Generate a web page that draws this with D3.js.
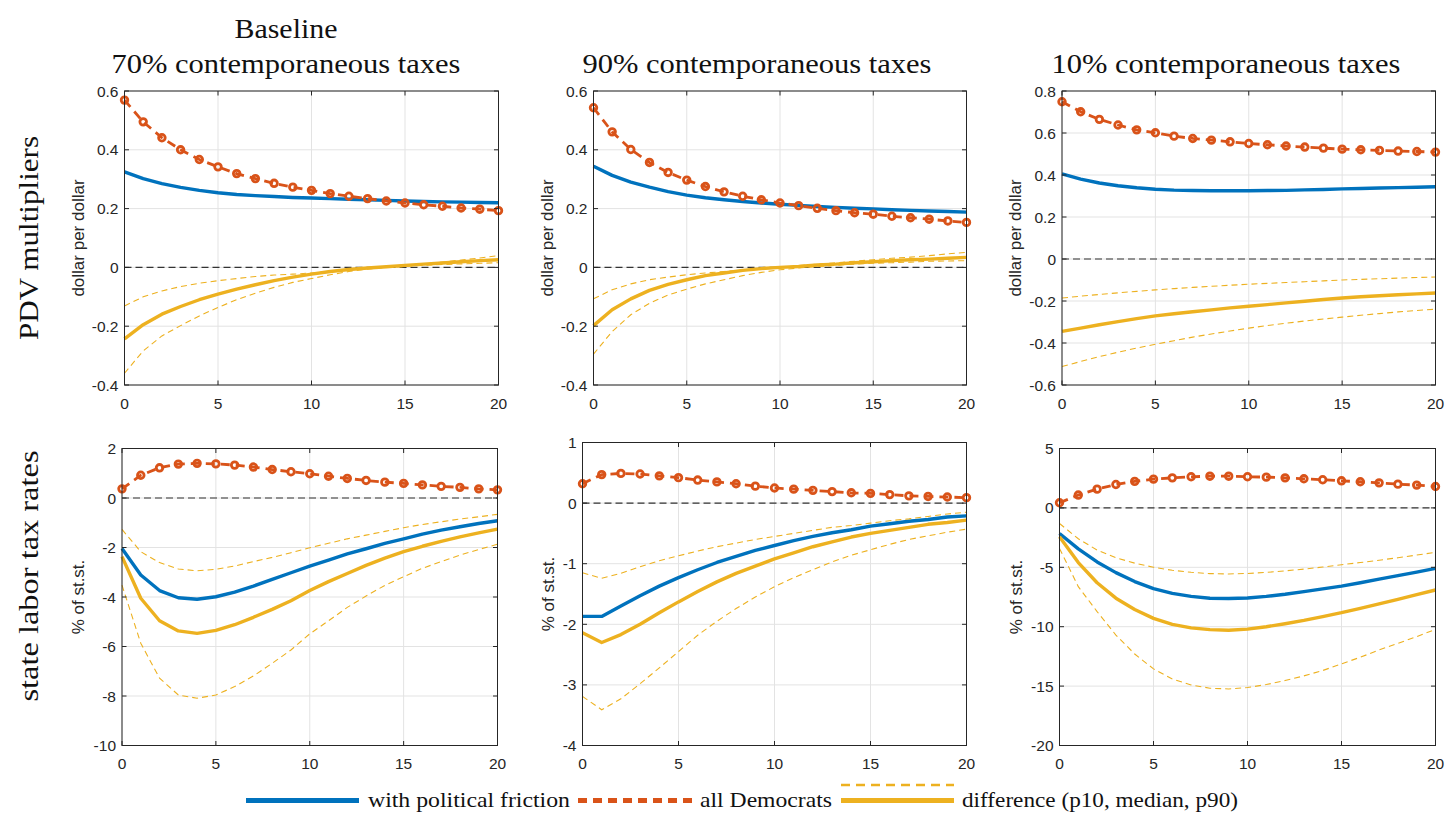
<!DOCTYPE html>
<html><head><meta charset="utf-8">
<script src="https://cdn.jsdelivr.net/npm/d3@7"></script>
<style>body{margin:0;background:#fff}svg{display:block}</style>
</head><body>
<svg id="chart" width="1445" height="814"></svg>
<script>
// ---------------- DATA ----------------
const horizons = [0,1,2,3,4,5,6,7,8,9,10,11,12,13,14,15,16,17,18,19,20];
const xTickValues = [0,5,10,15,20];
const xTickLabels = ["0","5","10","15","20"];

const columnTitles = ["70% contemporaneous taxes","90% contemporaneous taxes","10% contemporaneous taxes"];
const firstTitleLine = "Baseline";
const rowLabels = ["PDV multipliers","state labor tax rates"];
const yLabels = ["dollar per dollar","% of st.st."];
const legendLabels = ["with political friction","all Democrats","difference (p10, median, p90)"];

// y ticks per panel
const yTicksPdv = [-0.4,-0.2,0,0.2,0.4,0.6];
const yTickLabelsPdv = ["-0.4","-0.2","0","0.2","0.4","0.6"];
const yTicksPdv10 = [-0.6,-0.4,-0.2,0,0.2,0.4,0.6,0.8];
const yTickLabelsPdv10 = ["-0.6","-0.4","-0.2","0","0.2","0.4","0.6","0.8"];
const yTicksTax70 = [-10,-8,-6,-4,-2,0,2];
const yTickLabelsTax70 = ["-10","-8","-6","-4","-2","0","2"];
const yTicksTax90 = [-4,-3,-2,-1,0,1];
const yTickLabelsTax90 = ["-4","-3","-2","-1","0","1"];
const yTicksTax10 = [-20,-15,-10,-5,0,5];
const yTickLabelsTax10 = ["-20","-15","-10","-5","0","5"];

// Panel 1: PDV multipliers, 70%
const pdv70Friction = [0.325,0.302,0.285,0.272,0.262,0.254,0.248,0.244,0.241,0.238,0.236,0.234,0.232,0.230,0.228,0.226,0.224,0.223,0.222,0.221,0.220];
const pdv70Dem      = [0.569,0.495,0.441,0.400,0.367,0.342,0.319,0.302,0.286,0.273,0.262,0.251,0.242,0.234,0.226,0.219,0.213,0.208,0.202,0.198,0.193];
const pdv70DiffMed  = [-0.243,-0.195,-0.159,-0.133,-0.110,-0.091,-0.074,-0.059,-0.045,-0.033,-0.023,-0.014,-0.007,-0.002,0.002,0.007,0.011,0.015,0.019,0.023,0.026];
const pdv70DiffP90  = [-0.131,-0.100,-0.080,-0.065,-0.054,-0.045,-0.038,-0.031,-0.026,-0.023,-0.019,-0.014,-0.009,-0.004,0.001,0.006,0.012,0.018,0.025,0.032,0.040];
const pdv70DiffP10  = [-0.360,-0.284,-0.233,-0.198,-0.165,-0.136,-0.110,-0.088,-0.068,-0.051,-0.038,-0.025,-0.014,-0.006,0.000,0.003,0.007,0.010,0.012,0.014,0.016];

// Panel 2: PDV multipliers, 90%
const pdv90Friction = [0.344,0.313,0.290,0.273,0.258,0.246,0.237,0.230,0.224,0.219,0.215,0.211,0.207,0.204,0.201,0.199,0.196,0.194,0.192,0.190,0.188];
const pdv90Dem      = [0.543,0.461,0.401,0.357,0.323,0.297,0.275,0.257,0.242,0.230,0.219,0.210,0.201,0.193,0.186,0.181,0.174,0.169,0.164,0.158,0.153];
const pdv90DiffMed  = [-0.198,-0.144,-0.107,-0.078,-0.058,-0.042,-0.028,-0.019,-0.010,-0.004,0.000,0.003,0.008,0.011,0.016,0.019,0.023,0.026,0.028,0.031,0.034];
const pdv90DiffP90  = [-0.107,-0.076,-0.056,-0.042,-0.033,-0.025,-0.019,-0.014,-0.008,-0.004,0.000,0.006,0.011,0.016,0.021,0.026,0.031,0.035,0.040,0.046,0.051];
const pdv90DiffP10  = [-0.295,-0.218,-0.161,-0.122,-0.094,-0.074,-0.056,-0.042,-0.028,-0.017,-0.008,-0.002,0.003,0.007,0.011,0.014,0.016,0.018,0.021,0.022,0.023];

// Panel 3: PDV multipliers, 10%
const pdv10Friction = [0.405,0.380,0.362,0.349,0.339,0.332,0.328,0.326,0.325,0.325,0.325,0.326,0.327,0.329,0.331,0.334,0.336,0.338,0.340,0.342,0.344];
const pdv10Dem      = [0.749,0.701,0.665,0.638,0.615,0.601,0.585,0.574,0.566,0.558,0.550,0.544,0.538,0.533,0.528,0.523,0.520,0.517,0.514,0.512,0.509];
const pdv10DiffMed  = [-0.345,-0.329,-0.313,-0.298,-0.284,-0.271,-0.261,-0.251,-0.242,-0.233,-0.225,-0.217,-0.209,-0.201,-0.193,-0.186,-0.180,-0.175,-0.170,-0.166,-0.162];
const pdv10DiffP90  = [-0.186,-0.177,-0.169,-0.161,-0.154,-0.147,-0.141,-0.135,-0.130,-0.125,-0.120,-0.116,-0.112,-0.108,-0.104,-0.100,-0.097,-0.094,-0.091,-0.088,-0.086];
const pdv10DiffP10  = [-0.512,-0.488,-0.465,-0.444,-0.424,-0.406,-0.389,-0.372,-0.357,-0.343,-0.329,-0.317,-0.306,-0.295,-0.286,-0.277,-0.268,-0.260,-0.252,-0.245,-0.239];

// Panel 4: state labor tax rates, 70%
const tax70Friction = [-2.04,-3.11,-3.74,-4.03,-4.09,-3.99,-3.80,-3.56,-3.29,-3.02,-2.75,-2.51,-2.26,-2.05,-1.83,-1.65,-1.46,-1.30,-1.16,-1.03,-0.92];
const tax70Dem      = [0.37,0.92,1.22,1.37,1.40,1.38,1.33,1.25,1.15,1.06,0.98,0.88,0.79,0.71,0.64,0.59,0.53,0.47,0.43,0.37,0.33];
const tax70DiffMed  = [-2.37,-4.05,-4.96,-5.37,-5.47,-5.35,-5.12,-4.82,-4.50,-4.15,-3.74,-3.38,-3.05,-2.72,-2.43,-2.17,-1.95,-1.75,-1.57,-1.41,-1.26];
const tax70DiffP90  = [-1.27,-2.17,-2.61,-2.87,-2.94,-2.88,-2.75,-2.57,-2.40,-2.21,-2.01,-1.83,-1.65,-1.50,-1.35,-1.20,-1.07,-0.96,-0.85,-0.76,-0.66];
const tax70DiffP10  = [-3.52,-5.87,-7.28,-7.96,-8.09,-7.96,-7.62,-7.19,-6.68,-6.14,-5.49,-4.96,-4.42,-3.96,-3.53,-3.18,-2.84,-2.57,-2.31,-2.08,-1.87];

// Panel 5: state labor tax rates, 90%
const tax90Friction = [-1.87,-1.87,-1.70,-1.53,-1.37,-1.23,-1.10,-0.98,-0.88,-0.78,-0.70,-0.62,-0.55,-0.49,-0.44,-0.38,-0.34,-0.30,-0.27,-0.23,-0.21];
const tax90Dem      = [0.32,0.47,0.49,0.48,0.45,0.42,0.38,0.35,0.32,0.28,0.25,0.23,0.21,0.19,0.17,0.16,0.14,0.12,0.11,0.10,0.09];
const tax90DiffMed  = [-2.14,-2.30,-2.17,-2.00,-1.81,-1.63,-1.46,-1.30,-1.16,-1.04,-0.92,-0.82,-0.72,-0.64,-0.56,-0.50,-0.45,-0.40,-0.35,-0.32,-0.28];
const tax90DiffP90  = [-1.15,-1.24,-1.16,-1.05,-0.95,-0.87,-0.79,-0.72,-0.66,-0.60,-0.55,-0.50,-0.45,-0.40,-0.37,-0.33,-0.29,-0.26,-0.22,-0.18,-0.15];
const tax90DiffP10  = [-3.19,-3.41,-3.23,-2.98,-2.72,-2.45,-2.18,-1.95,-1.74,-1.55,-1.38,-1.23,-1.10,-0.97,-0.86,-0.77,-0.68,-0.60,-0.54,-0.48,-0.43];

// Panel 6: state labor tax rates, 10%
const tax10Friction = [-2.15,-3.45,-4.55,-5.45,-6.20,-6.80,-7.20,-7.45,-7.60,-7.63,-7.58,-7.45,-7.27,-7.05,-6.82,-6.58,-6.30,-6.00,-5.70,-5.40,-5.09];
const tax10Dem      = [0.43,1.08,1.58,1.97,2.23,2.42,2.53,2.62,2.67,2.67,2.62,2.59,2.53,2.45,2.37,2.28,2.20,2.11,2.00,1.92,1.80];
const tax10DiffMed  = [-2.43,-4.60,-6.30,-7.60,-8.55,-9.30,-9.80,-10.10,-10.25,-10.30,-10.20,-10.00,-9.75,-9.47,-9.15,-8.82,-8.45,-8.08,-7.70,-7.30,-6.91];
const tax10DiffP90  = [-1.31,-2.60,-3.55,-4.20,-4.65,-5.00,-5.25,-5.42,-5.53,-5.56,-5.52,-5.43,-5.30,-5.15,-4.98,-4.78,-4.60,-4.40,-4.20,-3.97,-3.74];
const tax10DiffP10  = [-3.41,-6.63,-8.73,-10.70,-12.30,-13.55,-14.40,-14.90,-15.18,-15.24,-15.12,-14.87,-14.53,-14.14,-13.69,-13.13,-12.57,-11.96,-11.40,-10.84,-10.22];

// ---------------- STYLE / LAYOUT ----------------
const C_BLUE = "#0072BD", C_RED = "#D95319", C_YEL = "#EDB120", C_AX = "#262626", C_GRID = "#e3e3e3";
const SANS = "'Liberation Sans', Arial, sans-serif";
const SERIF = "'Liberation Serif', 'Times New Roman', serif";

const panels = [
  {box:{l:124.5,r:498.5,t:91,b:385}, dom:[-0.4,0.6], ticks:yTicksPdv, tickLabels:yTickLabelsPdv, ylab:yLabels[0], ylabX:78,
   fr:pdv70Friction, dem:pdv70Dem, med:pdv70DiffMed, p90:pdv70DiffP90, p10:pdv70DiffP10},
  {box:{l:593.5,r:966.5,t:91,b:385}, dom:[-0.4,0.6], ticks:yTicksPdv, tickLabels:yTickLabelsPdv, ylab:yLabels[0], ylabX:547,
   fr:pdv90Friction, dem:pdv90Dem, med:pdv90DiffMed, p90:pdv90DiffP90, p10:pdv90DiffP10},
  {box:{l:1062,r:1435.5,t:91,b:385}, dom:[-0.6,0.8], ticks:yTicksPdv10, tickLabels:yTickLabelsPdv10, ylab:yLabels[0], ylabX:1015,
   fr:pdv10Friction, dem:pdv10Dem, med:pdv10DiffMed, p90:pdv10DiffP90, p10:pdv10DiffP10},
  {box:{l:122,r:497.5,t:448.5,b:745.5}, dom:[-10,2], ticks:yTicksTax70, tickLabels:yTickLabelsTax70, ylab:yLabels[1], ylabX:78,
   fr:tax70Friction, dem:tax70Dem, med:tax70DiffMed, p90:tax70DiffP90, p10:tax70DiffP10},
  {box:{l:582.5,r:966.5,t:442.5,b:745.5}, dom:[-4,1], ticks:yTicksTax90, tickLabels:yTickLabelsTax90, ylab:yLabels[1], ylabX:548,
   fr:tax90Friction, dem:tax90Dem, med:tax90DiffMed, p90:tax90DiffP90, p10:tax90DiffP10},
  {box:{l:1059.5,r:1435.5,t:448.5,b:745.5}, dom:[-20,5], ticks:yTicksTax10, tickLabels:yTickLabelsTax10, ylab:yLabels[1], ylabX:1016,
   fr:tax10Friction, dem:tax10Dem, med:tax10DiffMed, p90:tax10DiffP90, p10:tax10DiffP10}
];

const svg = d3.select("#chart");
svg.append("rect").attr("width",1445).attr("height",814).attr("fill","#fff");

panels.forEach(p => {
  const b = p.box;
  const x = d3.scaleLinear().domain([0,20]).range([b.l,b.r]);
  const y = d3.scaleLinear().domain(p.dom).range([b.b,b.t]);
  const g = svg.append("g");

  // grid
  g.selectAll(".gx").data(xTickValues).enter().append("line")
    .attr("x1",d=>x(d)).attr("x2",d=>x(d)).attr("y1",b.t).attr("y2",b.b)
    .attr("stroke",C_GRID).attr("stroke-width",1);
  g.selectAll(".gy").data(p.ticks).enter().append("line")
    .attr("x1",b.l).attr("x2",b.r).attr("y1",d=>y(d)).attr("y2",d=>y(d))
    .attr("stroke",C_GRID).attr("stroke-width",1);

  // zero line
  g.append("line").attr("x1",x(0)).attr("x2",x(20)).attr("y1",y(0)).attr("y2",y(0))
    .attr("stroke","#333").attr("stroke-width",1.2).attr("stroke-dasharray","7,4");

  const line = d3.line().x((d,i)=>x(horizons[i])).y(d=>y(d));

  // friction (blue)
  g.append("path").attr("d",line(p.fr)).attr("fill","none").attr("stroke",C_BLUE)
    .attr("stroke-width",3.4).attr("stroke-linejoin","round");
  // all Democrats (red dashed with circle markers)
  g.append("path").attr("d",line(p.dem)).attr("fill","none").attr("stroke",C_RED)
    .attr("stroke-width",2.8).attr("stroke-dasharray","9,6");
  g.selectAll(".mk").data(p.dem).enter().append("circle")
    .attr("cx",(d,i)=>x(horizons[i])).attr("cy",d=>y(d)).attr("r",3.3)
    .attr("fill","none").attr("stroke",C_RED).attr("stroke-width",2.8);
  // difference bands
  [p.p90,p.p10].forEach(arr=>{
    g.append("path").attr("d",line(arr)).attr("fill","none").attr("stroke",C_YEL)
      .attr("stroke-width",1.1).attr("stroke-dasharray","6,4");
  });
  g.append("path").attr("d",line(p.med)).attr("fill","none").attr("stroke",C_YEL)
    .attr("stroke-width",3.4).attr("stroke-linejoin","round");

  // box
  g.append("rect").attr("x",b.l).attr("y",b.t).attr("width",b.r-b.l).attr("height",b.b-b.t)
    .attr("fill","none").attr("stroke",C_AX).attr("stroke-width",1);

  // ticks (inward, all sides)
  const tl = 4.5;
  xTickValues.forEach(v=>{
    g.append("line").attr("x1",x(v)).attr("x2",x(v)).attr("y1",b.b).attr("y2",b.b-tl).attr("stroke",C_AX);
    g.append("line").attr("x1",x(v)).attr("x2",x(v)).attr("y1",b.t).attr("y2",b.t+tl).attr("stroke",C_AX);
  });
  p.ticks.forEach(v=>{
    g.append("line").attr("x1",b.l).attr("x2",b.l+tl).attr("y1",y(v)).attr("y2",y(v)).attr("stroke",C_AX);
    g.append("line").attr("x1",b.r).attr("x2",b.r-tl).attr("y1",y(v)).attr("y2",y(v)).attr("stroke",C_AX);
  });

  // tick labels
  g.selectAll(".xl").data(xTickValues).enter().append("text")
    .attr("x",d=>x(d)).attr("y",b.b+23.5).attr("text-anchor","middle")
    .attr("font-family",SANS).attr("font-size",15.5).attr("fill",C_AX)
    .text((d,i)=>xTickLabels[i]);
  g.selectAll(".yl").data(p.ticks).enter().append("text")
    .attr("x",b.l-6).attr("y",d=>y(d)).attr("dy","0.36em").attr("text-anchor","end")
    .attr("font-family",SANS).attr("font-size",15.5).attr("fill",C_AX)
    .text((d,i)=>p.tickLabels[i]);

  // y label
  g.append("text").attr("transform",`translate(${p.ylabX},${(b.t+b.b)/2}) rotate(-90)`)
    .attr("dy","0.35em").attr("text-anchor","middle")
    .attr("font-family",SANS).attr("font-size",17).attr("fill",C_AX).text(p.ylab);
});

// column titles
const titleX = [286, 757, 1226];
svg.append("text").attr("x",titleX[0]).attr("y",38).attr("text-anchor","middle")
  .attr("font-family",SERIF).attr("font-size",28).attr("fill","#111")
  .attr("textLength",103).attr("lengthAdjust","spacingAndGlyphs").text(firstTitleLine);
columnTitles.forEach((t,i)=>{
  svg.append("text").attr("x",titleX[i]).attr("y",73).attr("text-anchor","middle")
    .attr("font-family",SERIF).attr("font-size",28).attr("fill","#111")
    .attr("textLength",349).attr("lengthAdjust","spacingAndGlyphs").text(t);
});

// row labels
const rowY = [238, 576];
const rowLen = [204, 251];
rowLabels.forEach((t,i)=>{
  svg.append("text").attr("transform",`translate(30,${rowY[i]}) rotate(-90)`)
    .attr("dy","0.3em").attr("text-anchor","middle")
    .attr("font-family",SERIF).attr("font-size",28).attr("fill","#111")
    .attr("textLength",rowLen[i]).attr("lengthAdjust","spacingAndGlyphs").text(t);
});

// legend
const lg = svg.append("g");
const ly = 800.5;
lg.append("line").attr("x1",246).attr("x2",359).attr("y1",ly).attr("y2",ly)
  .attr("stroke",C_BLUE).attr("stroke-width",5);
lg.append("text").attr("x",368).attr("y",807.3).attr("font-family",SERIF).attr("font-size",22)
  .attr("fill","#111").attr("textLength",202).attr("lengthAdjust","spacingAndGlyphs").text(legendLabels[0]);
lg.append("line").attr("x1",578).attr("x2",692).attr("y1",ly).attr("y2",ly)
  .attr("stroke",C_RED).attr("stroke-width",5).attr("stroke-dasharray","9,6");
lg.append("text").attr("x",700).attr("y",807.3).attr("font-family",SERIF).attr("font-size",22)
  .attr("fill","#111").attr("textLength",132).attr("lengthAdjust","spacingAndGlyphs").text(legendLabels[1]);
lg.append("line").attr("x1",841).attr("x2",954).attr("y1",785).attr("y2",785)
  .attr("stroke",C_YEL).attr("stroke-width",2.6).attr("stroke-dasharray","9,6");
lg.append("line").attr("x1",841).attr("x2",954).attr("y1",ly).attr("y2",ly)
  .attr("stroke",C_YEL).attr("stroke-width",5);
lg.append("text").attr("x",962).attr("y",807.3).attr("font-family",SERIF).attr("font-size",22)
  .attr("fill","#111").attr("textLength",276).attr("lengthAdjust","spacingAndGlyphs").text(legendLabels[2]);
</script>
</body></html>
